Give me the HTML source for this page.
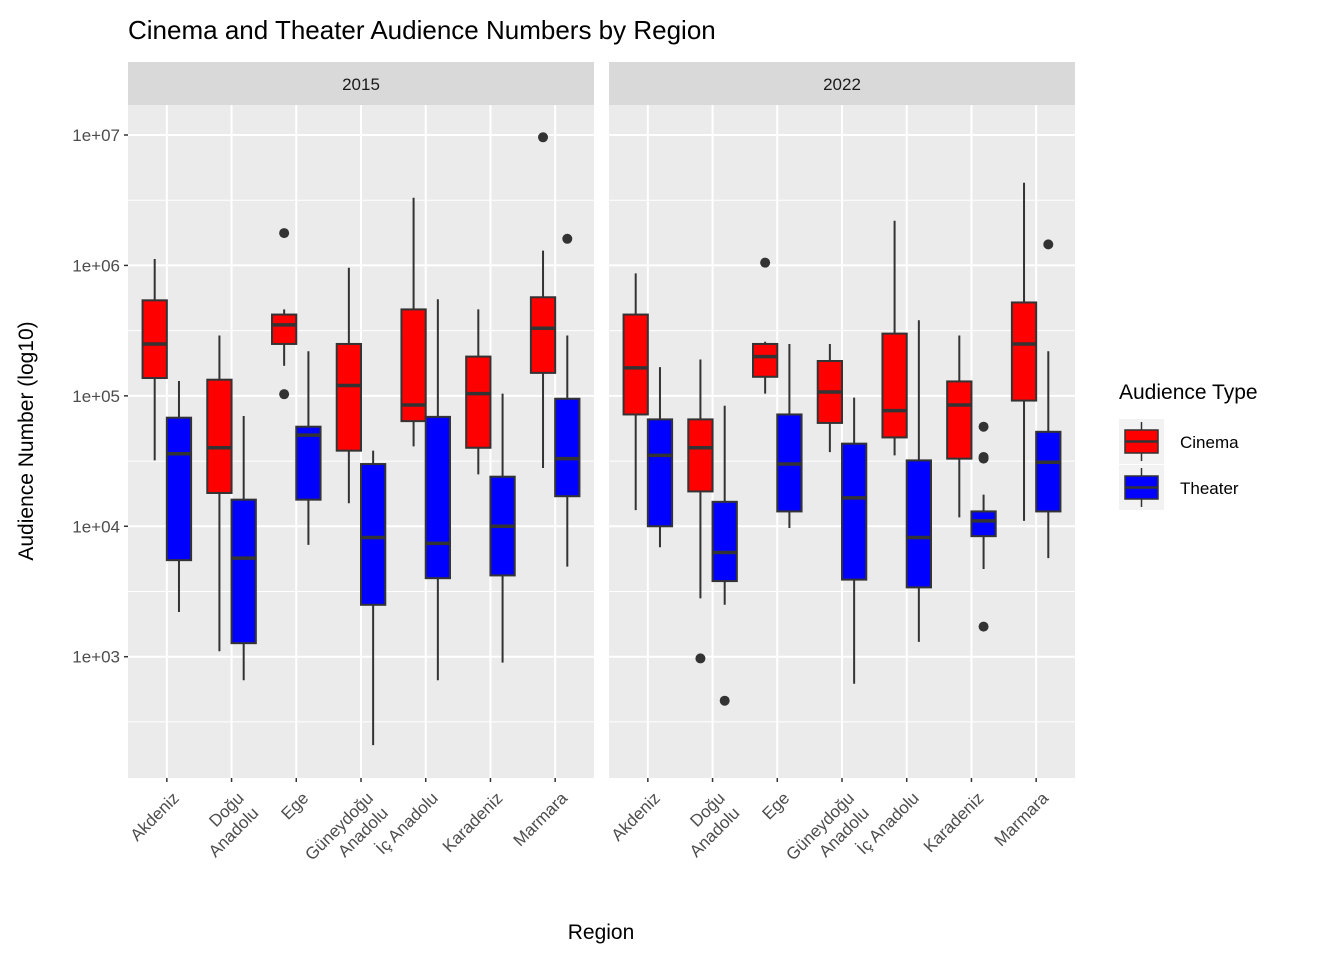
<!DOCTYPE html>
<html><head><meta charset="utf-8"><style>
body{margin:0;background:#fff;}
svg{display:block;font-family:"Liberation Sans",Arial,sans-serif;}
</style></head><body>
<svg id="chart" width="1344" height="960" viewBox="0 0 1344 960">
<text x="128" y="39" font-size="26" fill="#000">Cinema and Theater Audience Numbers by Region</text>
<text transform="translate(33,441) rotate(-90)" text-anchor="middle" font-size="21">Audience Number (log10)</text>
<text x="601" y="939" text-anchor="middle" font-size="21">Region</text>
<g id="plot"></g>
<g>
<text x="1119" y="399" font-size="21">Audience Type</text>
<rect x="1119" y="419" width="45" height="45" fill="#f2f2f2"/>
<rect x="1119" y="465" width="45" height="45" fill="#f2f2f2"/>
<line x1="1141.5" y1="422" x2="1141.5" y2="461" stroke="#333" stroke-width="1.5"/>
<rect x="1125" y="430" width="33" height="23" fill="red" stroke="#333" stroke-width="1.5"/>
<line x1="1125" y1="441.5" x2="1158" y2="441.5" stroke="#333" stroke-width="2.5"/>
<line x1="1141.5" y1="468" x2="1141.5" y2="507" stroke="#333" stroke-width="1.5"/>
<rect x="1125" y="476" width="33" height="23" fill="blue" stroke="#333" stroke-width="1.5"/>
<line x1="1125" y1="487.5" x2="1158" y2="487.5" stroke="#333" stroke-width="2.5"/>
<text x="1180" y="448" font-size="17">Cinema</text>
<text x="1180" y="494" font-size="17">Theater</text>
</g>
</svg>
<script>
const years = ["2015","2022"];
const regions = [["Akdeniz"],["Doğu","Anadolu"],["Ege"],["Güneydoğu","Anadolu"],["İç Anadolu"],["Karadeniz"],["Marmara"]];
const tickValues = [1e3,1e4,1e5,1e6,1e7];
const tickLabels = ["1e+03","1e+04","1e+05","1e+06","1e+07"];
// each: [low whisker, q1, median, q3, high whisker]
const cinema2015 = [[3.2e4,1.37e5,2.5e5,5.4e5,1.12e6],[1.1e3,1.8e4,4e4,1.33e5,2.9e5],[1.7e5,2.5e5,3.5e5,4.2e5,4.6e5],[1.5e4,3.8e4,1.2e5,2.5e5,9.6e5],[4.1e4,6.4e4,8.5e4,4.6e5,3.3e6],[2.5e4,4e4,1.04e5,2e5,4.6e5],[2.8e4,1.5e5,3.3e5,5.7e5,1.3e6]];
const theater2015 = [[2.2e3,5.5e3,3.6e4,6.8e4,1.3e5],[6.6e2,1.27e3,5.7e3,1.6e4,7e4],[7.2e3,1.6e4,5e4,5.8e4,2.2e5],[2.1e2,2.5e3,8.2e3,3e4,3.8e4],[6.6e2,4e3,7.4e3,6.9e4,5.5e5],[9e2,4.2e3,1e4,2.4e4,1.04e5],[4.9e3,1.7e4,3.3e4,9.5e4,2.9e5]];
const cinema2022 = [[1.33e4,7.2e4,1.64e5,4.2e5,8.7e5],[2.8e3,1.85e4,4e4,6.6e4,1.9e5],[1.04e5,1.4e5,2e5,2.5e5,2.6e5],[3.7e4,6.2e4,1.07e5,1.85e5,2.5e5],[3.5e4,4.8e4,7.7e4,3e5,2.2e6],[1.17e4,3.3e4,8.5e4,1.29e5,2.9e5],[1.1e4,9.2e4,2.5e5,5.2e5,4.3e6]];
const theater2022 = [[6.9e3,1e4,3.5e4,6.6e4,1.66e5],[2.5e3,3.8e3,6.3e3,1.54e4,8.4e4],[9.7e3,1.3e4,3e4,7.2e4,2.5e5],[6.2e2,3.9e3,1.65e4,4.3e4,9.7e4],[1.3e3,3.4e3,8.2e3,3.2e4,3.8e5],[4.7e3,8.4e3,1.1e4,1.3e4,1.75e4],[5.7e3,1.3e4,3.1e4,5.3e4,2.2e5]];
const outCinema2015 = [[],[],[1.77e6,1.03e5],[],[],[],[9.6e6]];
const outTheater2015 = [[],[],[],[],[],[],[1.6e6]];
const outCinema2022 = [[],[9.7e2],[1.05e6],[],[],[],[]];
const outTheater2022 = [[],[4.6e2],[],[],[],[5.8e4,3.4e4,3.3e4,1.7e3],[1.45e6]];

const NS="http://www.w3.org/2000/svg";
const plotEl=document.getElementById('plot');
const panelX=[128,609], panelW=466, plotTop=105, plotBottom=778;
const logTop=7.23, logBot=2.07;
function yScale(v){return plotTop+(logTop-Math.log10(v))/(logTop-logBot)*(plotBottom-plotTop);}
function xScale(p,i){const u=panelW/7.2;return panelX[p]+(0.6+i)*u;}
function mk(tag,attrs,parent){const e=document.createElementNS(NS,tag);for(const k in attrs)e.setAttribute(k,attrs[k]);(parent||plotEl).appendChild(e);return e;}
const data=[[cinema2015,theater2015,outCinema2015,outTheater2015],[cinema2022,theater2022,outCinema2022,outTheater2022]];
const bw=panelW/7.2*0.375;
for(let p=0;p<2;p++){
  const g=mk('g',{});
  
  
  const bg=mk('rect',{x:panelX[p],y:plotTop,width:panelW,height:plotBottom-plotTop,fill:'#ebebeb'},g);
  
  
  const st=mk('rect',{x:panelX[p],y:62,width:panelW,height:43,fill:'#d9d9d9'},g);
  
  
  const stt=mk('text',{x:panelX[p]+panelW/2,y:90,'text-anchor':'middle','font-size':'17',fill:'#1a1a1a'},g);
  stt.textContent=years[p];
  
  
  const minors=[1e2].concat(tickValues);
  minors.forEach(v=>{
    const ym=yScale(v*Math.sqrt(10));
    if(ym>plotTop&&ym<plotBottom) mk('line',{x1:panelX[p],x2:panelX[p]+panelW,y1:ym,y2:ym,stroke:'#fff','stroke-width':1},g);
  });
  tickValues.forEach(v=>{const y=yScale(v);mk('line',{x1:panelX[p],x2:panelX[p]+panelW,y1:y,y2:y,stroke:'#fff','stroke-width':2},g);});
  regions.forEach((r,i)=>{const x=xScale(p,i);mk('line',{x1:x,x2:x,y1:plotTop,y2:plotBottom,stroke:'#fff','stroke-width':2},g);
    mk('line',{x1:x,x2:x,y1:plotBottom,y2:plotBottom+4,stroke:'#333','stroke-width':1.5},g);
    const t=mk('text',{transform:`translate(${x+4},${plotBottom+12}) rotate(-45)`,'text-anchor':'end','font-size':'17',fill:'#4d4d4d'},g);
    
    
    r.forEach((line,li)=>{const ts=mk('tspan',{x:0,y:13+li*21},t);ts.textContent=line;});
  });
  const [cin,the,oc,ot]=data[p];
  [[cin,oc,'red',-1,'cinema'],[the,ot,'blue',1,'theater']].forEach(([arr,outs,col,side,nm])=>{
    arr.forEach((s,i)=>{
      const cx=xScale(p,i)+side*bw/2;
      const bg2=mk('g',{},g);
      
      
      mk('line',{x1:cx,x2:cx,y1:yScale(s[0]),y2:yScale(s[4]),stroke:'#333','stroke-width':2},bg2);
      mk('rect',{x:cx-bw/2,y:yScale(s[3]),width:bw,height:yScale(s[1])-yScale(s[3]),fill:col,stroke:'#333','stroke-width':2},bg2);
      mk('line',{x1:cx-bw/2,x2:cx+bw/2,y1:yScale(s[2]),y2:yScale(s[2]),stroke:'#333','stroke-width':3.5},bg2);
      outs[i].forEach(v=>{const c=mk('circle',{cx:cx,cy:yScale(v),r:5,fill:'#333'},bg2);
        
        });
    });
  });
}
tickValues.forEach((v,k)=>{const y=yScale(v);
  mk('line',{x1:124,x2:128,y1:y,y2:y,stroke:'#333','stroke-width':1.5});
  const t=mk('text',{x:120,y:y+6,'text-anchor':'end','font-size':'17',fill:'#4d4d4d'});
  t.textContent=tickLabels[k];
  
  
});
</script>
</body></html>
